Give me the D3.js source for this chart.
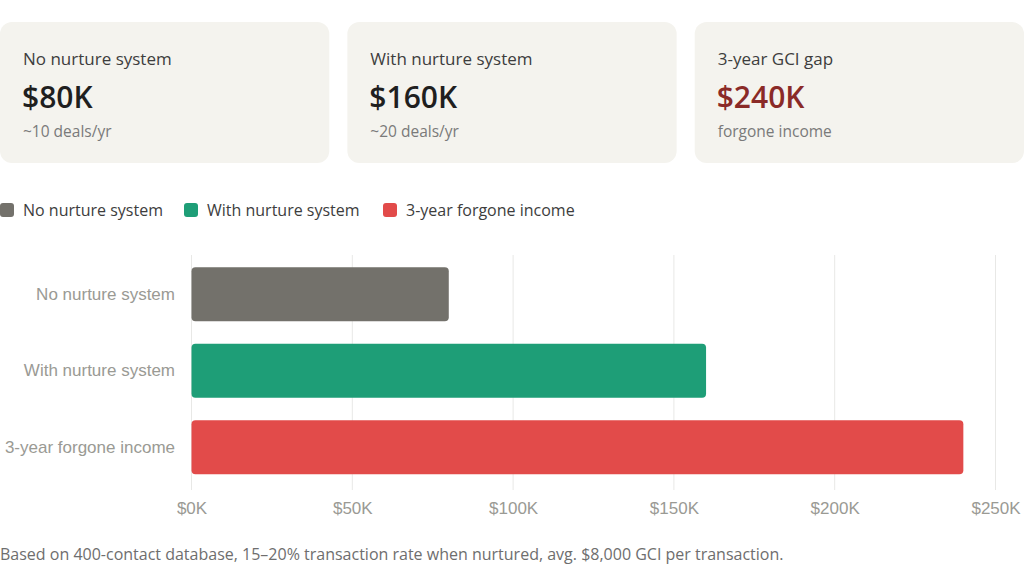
<!DOCTYPE html>
<html><head><meta charset="utf-8">
<script src="https://cdn.jsdelivr.net/npm/d3@7"></script>
<style>
html,body{margin:0;padding:0;background:#fff;}
svg{display:block;}
</style></head>
<body>
<svg id="c" width="1024" height="587"></svg>
<script>
const cardLabels = ["No nurture system", "With nurture system", "3-year GCI gap"];
const cardValues = ["$80K", "$160K", "$240K"];
const cardSubs = ["~10 deals/yr", "~20 deals/yr", "forgone income"];
const cardValueColors = ["#1f1f1f", "#1f1f1f", "#8a2a27"];

const categories = ["No nurture system", "With nurture system", "3-year forgone income"];
const values = [80000, 160000, 240000];
const colors = ["#73716b", "#1e9e77", "#e24b4a"];
const xTicks = [0, 50000, 100000, 150000, 200000, 250000];
const footnote = "Based on 400-contact database, 15\u201320% transaction rate when nurtured, avg. $8,000 GCI per transaction.";

const svg = d3.select("#c");
const uiFont = "'Open Sans','Noto Sans',sans-serif";

// cards
const cardX = d3.scaleBand().domain(d3.range(3)).range([0, 1024]).paddingInner(0.052).paddingOuter(0);
const cards = svg.selectAll("g.card").data(d3.range(3)).join("g").attr("class","card")
  .attr("transform", i => `translate(${cardX(i)},22)`);
cards.append("rect").attr("width", cardX.bandwidth()).attr("height", 141).attr("rx", 12).attr("fill", "#f4f3ee");
cards.append("text").attr("x", 23).attr("y", 43).text(i => cardLabels[i])
  .attr("font-family", uiFont).attr("font-size", 17).attr("fill", "#3d3d3d");
cards.append("text").attr("x", 22).attr("y", 86).text(i => cardValues[i])
  .attr("font-family", uiFont).attr("font-size", 30).attr("font-weight", 600).attr("fill", i => cardValueColors[i]);
cards.append("text").attr("x", 23).attr("y", 115).text(i => cardSubs[i])
  .attr("font-family", uiFont).attr("font-size", 15.5).attr("fill", "#7a7a7a");

// legend
const legX = [0, 184, 383];
const leg = svg.selectAll("g.leg").data(categories).join("g").attr("class","leg")
  .attr("transform", (d,i) => `translate(${legX[i]},203)`);
leg.append("rect").attr("width", 14).attr("height", 14).attr("rx", 3).attr("fill", (d,i) => colors[i]);
leg.append("text").attr("x", 23).attr("y", 13).text(d => d)
  .attr("font-family", uiFont).attr("font-size", 16).attr("fill", "#3d3d3d");

// chart
const x = d3.scaleLinear().domain([0, 250000]).range([191.5, 995.5]);
const y = d3.scaleBand().domain(categories).range([256, 485.5]).paddingInner(0.294).paddingOuter(0.147);
const chartFont = "'Liberation Sans',Arial,sans-serif";

svg.append("g").selectAll("line").data(xTicks).join("line")
  .attr("x1", d => x(d)).attr("x2", d => x(d)).attr("y1", 255).attr("y2", 490)
  .attr("stroke", "#e8e8e6").attr("stroke-width", 1);

svg.append("g").selectAll("rect").data(values).join("rect")
  .attr("x", x(0)).attr("y", (d,i) => y(categories[i]))
  .attr("width", d => x(d) - x(0)).attr("height", y.bandwidth())
  .attr("rx", 4).attr("fill", (d,i) => colors[i]);

const xAxis = d3.axisBottom(x).tickValues(xTicks).tickSize(0).tickPadding(0)
  .tickFormat(d => "$" + (d/1000) + "K");
const gx = svg.append("g").attr("transform", "translate(0,502)").call(xAxis);
gx.select(".domain").remove();
gx.selectAll("text").attr("font-family", chartFont).attr("font-size", 17).attr("fill", "#9a9a94").attr("dy", "0.71em");

const yAxis = d3.axisLeft(y).tickSize(0).tickPadding(0);
const gy = svg.append("g").attr("transform", "translate(175,0)").call(yAxis);
gy.select(".domain").remove();
gy.selectAll("text").attr("font-family", chartFont).attr("font-size", 17).attr("fill", "#9a9a94");

svg.append("text").attr("x", 0).attr("y", 560).text(footnote)
  .attr("font-family", uiFont).attr("font-size", 16).attr("fill", "#6e6e6e");
</script>
</body></html>
